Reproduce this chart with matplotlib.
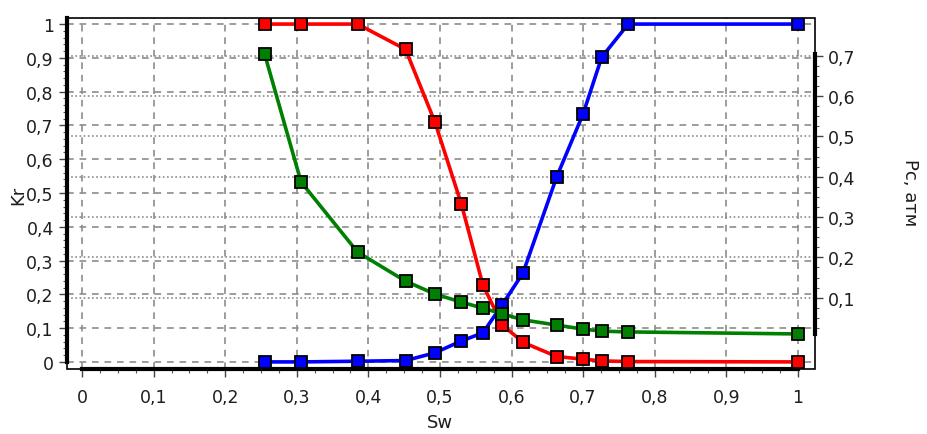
import numpy as np
import matplotlib
matplotlib.use("Agg")
import matplotlib.pyplot as plt
import matplotlib.transforms as mtransforms
from matplotlib.patches import Rectangle
from matplotlib.ticker import FixedLocator, FuncFormatter

# water saturation
sw = [0.255, 0.306, 0.385, 0.452, 0.493, 0.530, 0.560, 0.587, 0.616, 0.663, 0.700, 0.726, 0.763, 1.0]
# relative permeabilities
kr_red = [1.0, 1.0, 1.0, 0.925, 0.71, 0.467, 0.228, 0.11, 0.058, 0.016, 0.008, 0.003, 0.001, 0.0]
kr_blue = [0.0, 0.0, 0.002, 0.004, 0.027, 0.062, 0.086, 0.169, 0.263, 0.547, 0.734, 0.902, 1.0, 1.0]
# capillary pressure, atm
pc_green = [0.705, 0.387, 0.213, 0.141, 0.109, 0.089, 0.074, 0.060, 0.045, 0.032, 0.022, 0.017, 0.015, 0.010]

x_ticks = [0, 0.1, 0.2, 0.3, 0.4, 0.5, 0.6, 0.7, 0.8, 0.9, 1.0]
kr_ticks = [0, 0.1, 0.2, 0.3, 0.4, 0.5, 0.6, 0.7, 0.8, 0.9, 1.0]
pc_ticks = [0.1, 0.2, 0.3, 0.4, 0.5, 0.6, 0.7]

txt = "#1e1e1e"
plt.rcParams['font.family'] = ['DejaVu Sans']
plt.rcParams['font.size'] = 12


def comma(v, pos):
    s = ("%.1f" % v).rstrip('0').rstrip('.')
    return s.replace('.', ',')


fig = plt.figure(figsize=(9.28, 4.35), dpi=100)
ax = fig.add_axes([67 / 928, 65 / 435, 748 / 928, 351 / 435])
ax2 = ax.twinx()

ax.set_xlim(-0.021, 1.024)
ax.set_ylim(-0.021, 1.018)
ax2.set_ylim(-0.077, 0.794)

# grids
dash = dict(color="#8c8c8c", lw=1.2, dashes=(4, 3.5), zorder=1)
for xv in x_ticks:
    ax.axvline(xv, **dash)
for yv in kr_ticks:
    ax.axhline(yv, **dash)
blend = mtransforms.blended_transform_factory(ax.transAxes, ax2.transData)
for pv in pc_ticks:
    ax.plot([0, 1], [pv, pv], transform=blend, color="#8c8c8c", lw=1.2,
            dashes=(1, 1.5), zorder=1)

mk = dict(marker='s', markersize=9, markeredgecolor='black', markeredgewidth=1.3, lw=2.6, zorder=3)
ax.plot(sw, kr_red, color='#ff0000', markerfacecolor='#ff0000', **mk)
ax.plot(sw, kr_blue, color='#0000ff', markerfacecolor='#0000ff', **mk)
ax2.plot(sw, pc_green, color='#008000', markerfacecolor='#008000', **mk)

# frame and axes lines
for a in (ax, ax2):
    for s in a.spines.values():
        s.set_visible(False)
ax.add_patch(Rectangle((0, 0), 1, 1, transform=ax.transAxes, fill=False,
                       edgecolor='black', lw=1.2, zorder=5, clip_on=False))
ax.spines['left'].set_visible(True)
ax.spines['left'].set_linewidth(3)
ax.spines['left'].set_bounds(0, 1.018)
ax.spines['bottom'].set_visible(True)
ax.spines['bottom'].set_linewidth(3)
ax.spines['bottom'].set_bounds(0, 1)
ax2.spines['right'].set_visible(True)
ax2.spines['right'].set_linewidth(3)
ax2.spines['right'].set_bounds(min(pc_green), max(pc_green))

ax.xaxis.set_major_locator(FixedLocator(x_ticks))
ax.xaxis.set_minor_locator(FixedLocator(np.arange(0, 1.001, 0.025)))
ax.yaxis.set_major_locator(FixedLocator(kr_ticks))
ax.yaxis.set_minor_locator(FixedLocator(np.arange(0, 1.001, 0.02)))
ax2.yaxis.set_major_locator(FixedLocator(pc_ticks))
ax2.yaxis.set_minor_locator(FixedLocator(np.arange(0.025, 0.70, 0.025)))
for f in (ax.xaxis, ax.yaxis, ax2.yaxis):
    f.set_major_formatter(FuncFormatter(comma))

ax.tick_params(which='major', length=6, width=1, color='#444444', labelcolor=txt, labelsize=12.5)
ax.tick_params(which='minor', length=3, width=0.8, color='#555555')
ax.tick_params(axis='x', which='major', pad=8)
ax2.tick_params(which='major', length=6, width=1, color='#444444', labelcolor=txt, labelsize=12.5)
ax2.tick_params(which='minor', length=3, width=0.8, color='#555555')

fig.text(18 / 928, 1 - 195 / 435, "Kr", rotation=90, ha='center', va='center', fontsize=13, color=txt)
fig.text(440 / 928, 1 - 423 / 435, "Sw", ha='center', va='center', fontsize=13, color=txt)
fig.text(910 / 928, 1 - 193 / 435, "Pc, атм", rotation=270, ha='center', va='center', fontsize=13, color=txt)

fig.savefig("out.png", dpi=100)
